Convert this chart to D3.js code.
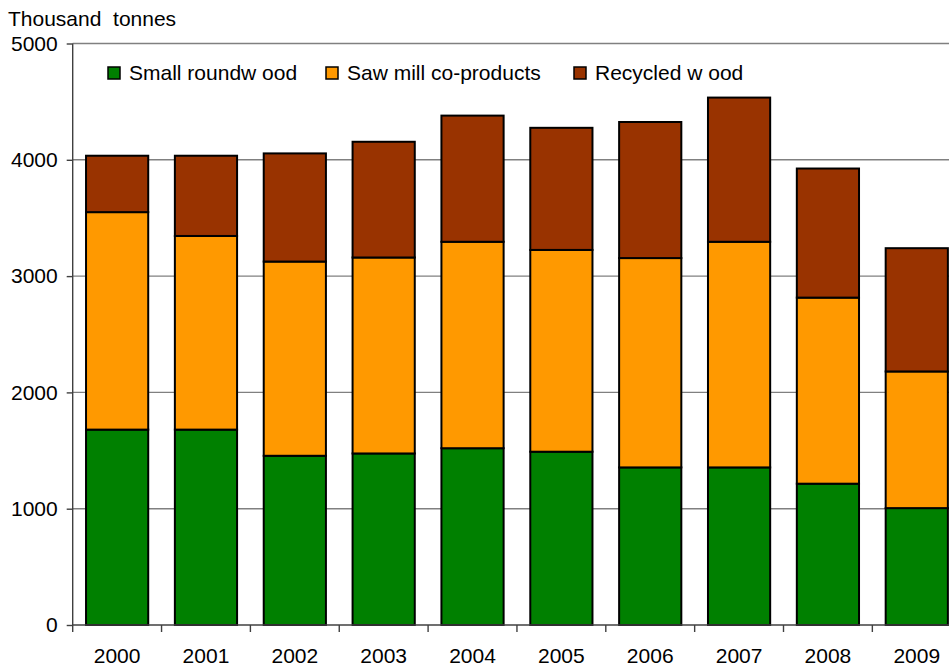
<!DOCTYPE html>
<html>
<head>
<meta charset="utf-8">
<script src="https://cdn.jsdelivr.net/npm/d3@7"></script>
<style>
  html, body { margin: 0; padding: 0; background: #fff; }
  svg { display: block; font-family: "Liberation Sans", Arial, sans-serif; }
</style>
</head>
<body>
<svg id="chart" width="949" height="668"></svg>
<script>
// Wood fibre used, thousand tonnes, by source
const years = ["2000", "2001", "2002", "2003", "2004", "2005", "2006", "2007", "2008", "2009"];
const smallRoundwood = [1680, 1680, 1455, 1475, 1520, 1490, 1355, 1355, 1215, 1005];
const sawmillCoProducts = [1870, 1665, 1670, 1685, 1775, 1735, 1800, 1940, 1600, 1175];
const recycledWood = [485, 690, 930, 995, 1085, 1050, 1170, 1240, 1110, 1060];
const seriesNames = ["Small roundw ood", "Saw mill co-products", "Recycled w ood"];
const seriesColors = ["#008000", "#FF9900", "#993300"];
const yTicks = [0, 1000, 2000, 3000, 4000, 5000];

const rows = years.map((yr, i) => ({
  year: yr,
  s0: smallRoundwood[i],
  s1: sawmillCoProducts[i],
  s2: recycledWood[i]
}));
const keys = ["s0", "s1", "s2"];
const stacked = d3.stack().keys(keys)(rows);

const svg = d3.select("#chart");
const plotLeft = 72.7, plotBottom = 625, plotTop = 43.5;
const bandW = 88.85;
const fontSize = 21;

const x = d3.scaleBand()
  .domain(years)
  .range([plotLeft, plotLeft + bandW * years.length])
  .paddingInner(0.3)
  .paddingOuter(0.15);

const y = d3.scaleLinear().domain([0, 5000]).range([plotBottom, plotTop]);

// horizontal gridlines
svg.append("g")
  .selectAll("line")
  .data(yTicks.filter(t => t > 0))
  .join("line")
  .attr("x1", plotLeft)
  .attr("x2", 949)
  .attr("y1", d => y(d))
  .attr("y2", d => y(d))
  .attr("stroke", "#808080")
  .attr("stroke-width", 1.4);

// stacked bars
svg.append("g")
  .selectAll("g")
  .data(stacked)
  .join("g")
  .attr("fill", (d, i) => seriesColors[i])
  .selectAll("rect")
  .data(d => d)
  .join("rect")
  .attr("x", d => x(d.data.year))
  .attr("width", x.bandwidth())
  .attr("y", d => y(d[1]))
  .attr("height", d => y(d[0]) - y(d[1]))
  .attr("stroke", "#000")
  .attr("stroke-width", 2);

// y axis
const yAxis = d3.axisLeft(y).tickValues(yTicks).tickSize(6).tickPadding(9).tickFormat(d3.format("d"));
const gy = svg.append("g").attr("transform", `translate(${plotLeft},0)`).call(yAxis);
gy.select(".domain").attr("stroke", "#404040").attr("stroke-width", 1.4).attr("d", `M0,${plotTop}V${plotBottom}`);
gy.selectAll(".tick line").attr("stroke", "#404040").attr("stroke-width", 1.4);
gy.selectAll(".tick text").attr("font-size", fontSize).attr("fill", "#000")
  .attr("font-family", "'Liberation Sans', Arial, sans-serif");

// x axis with ticks at category boundaries
const gx = svg.append("g").attr("transform", `translate(0,${plotBottom})`);
gx.append("line")
  .attr("x1", plotLeft).attr("x2", 949)
  .attr("y1", 0).attr("y2", 0)
  .attr("stroke", "#404040").attr("stroke-width", 1.4);
gx.selectAll("line.bt")
  .data(d3.range(years.length + 1))
  .join("line")
  .attr("class", "bt")
  .attr("x1", i => plotLeft + i * bandW)
  .attr("x2", i => plotLeft + i * bandW)
  .attr("y1", 0).attr("y2", 7)
  .attr("stroke", "#404040").attr("stroke-width", 1.4);
gx.selectAll("text")
  .data(years)
  .join("text")
  .attr("x", d => x(d) + x.bandwidth() / 2)
  .attr("y", 38)
  .attr("text-anchor", "middle")
  .attr("font-size", fontSize)
  .attr("fill", "#000")
  .text(d => d);

// axis title
svg.append("text")
  .attr("x", 8)
  .attr("y", 26)
  .attr("font-size", fontSize)
  .attr("fill", "#000")
  .attr("xml:space", "preserve")
  .style("white-space", "pre")
  .text("Thousand  tonnes");

// legend
const legendX = [108, 326, 574];
const lg = svg.append("g");
seriesNames.forEach((name, i) => {
  lg.append("rect")
    .attr("x", legendX[i])
    .attr("y", 67)
    .attr("width", 12)
    .attr("height", 12)
    .attr("fill", seriesColors[i])
    .attr("stroke", "#000")
    .attr("stroke-width", 1.5);
  lg.append("text")
    .attr("x", legendX[i] + 21)
    .attr("y", 80)
    .attr("font-size", fontSize)
    .attr("fill", "#000")
    .text(name);
});
</script>
</body>
</html>
